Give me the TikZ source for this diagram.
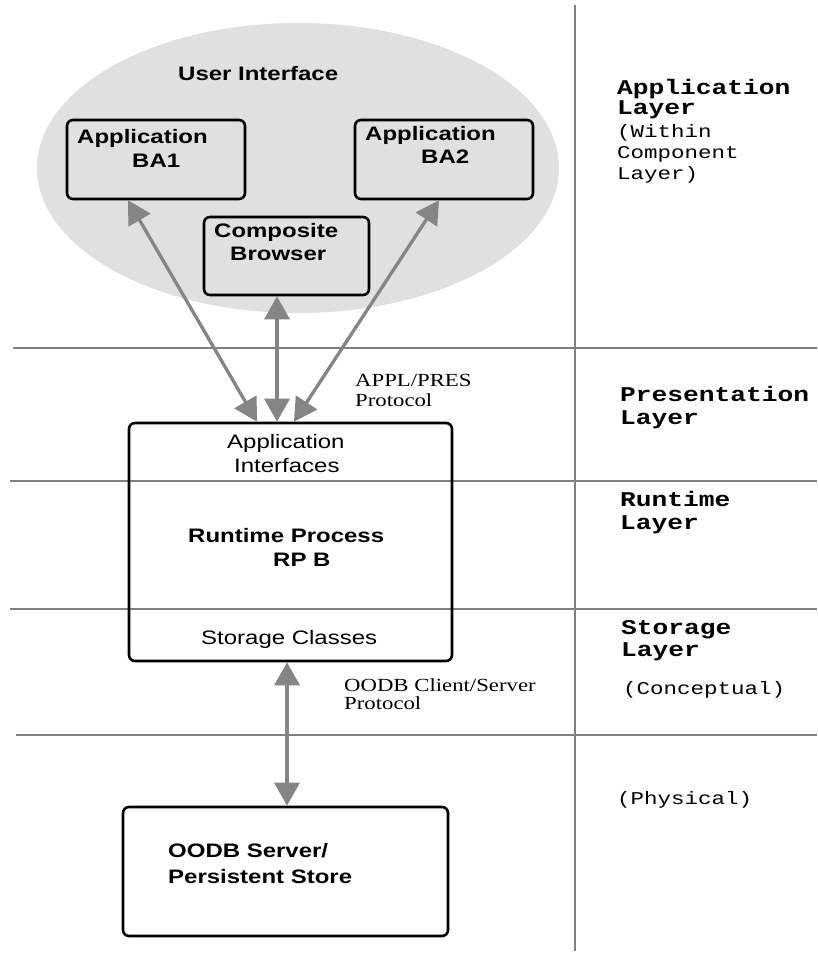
\documentclass[tikz,border=0pt]{standalone}
\usepackage{fontspec}
\setmainfont[FakeStretch=1.23]{Liberation Serif}
\newfontfamily\arialf[FakeStretch=1.23]{Liberation Sans}
\newfontfamily\courf[FakeStretch=1.25]{Liberation Mono}
\usetikzlibrary{arrows.meta,shapes.geometric}
\definecolor{uigray}{HTML}{E0E0E0}
\definecolor{linegray}{HTML}{808080}
\definecolor{arrowgray}{HTML}{858585}
\tikzset{
  box/.style={draw=black, line width=2.6pt, rounded corners=6pt, inner sep=0pt},
  sepline/.style={draw=linegray, line width=2.6pt},
  link/.style={draw=arrowgray, line width=3.3pt,
    {Triangle[length=23pt,width=25pt]}-{Triangle[length=23pt,width=25pt]}},
  txt/.style={inner sep=0pt, anchor=base west},
  bsans/.style={txt, font=\arialf\bfseries\fontsize{19.5}{24}\selectfont},
  rsans/.style={txt, font=\arialf\fontsize{19.5}{24}\selectfont},
  serif/.style={txt, align=left, font=\rmfamily\fontsize{18.5}{#1}\selectfont},
  bmono/.style={txt, font=\courf\bfseries\fontsize{21}{22}\selectfont},
  rmono/.style={txt, font=\courf\fontsize{18}{20}\selectfont},
}
\begin{document}
\begin{tikzpicture}[x=1pt,y=-1pt]
\useasboundingbox (0,0) rectangle (817,953);
\fill[white] (0,0) rectangle (817,953);

% user interface ellipse
\node[ellipse, fill=uigray, inner sep=0pt, minimum width=522pt, minimum height=290pt] (ui) at (298,168) {};

% layer separators
\draw[sepline] (12.5,348) -- (817,348);
\draw[sepline] (10,481) -- (817,481);
\draw[sepline] (10,609) -- (817,609);
\draw[sepline] (16,735) -- (817,735);
\draw[sepline] (575,5) -- (575,951);

% boxes
\node[box, minimum width=178pt, minimum height=79pt] (ba1) at (156,159.5) {};
\node[box, minimum width=178pt, minimum height=79pt] (ba2) at (444,159.5) {};
\node[box, minimum width=165pt, minimum height=78pt] (comp) at (286.5,256) {};
\node[box, minimum width=323pt, minimum height=238pt] (rp) at (290.5,542) {};
\node[box, minimum width=325pt, minimum height=129pt] (oodb) at (285.5,871.5) {};

% texts in the user interface
\node[bsans] (uit) at (178,80) {User Interface};
\node[bsans] (ba1a) at (77,143) {Application};
\node[bsans] (ba1b) at (132,167) {BA1};
\node[bsans] (ba2a) at (365,140) {Application};
\node[bsans] (ba2b) at (421,163) {BA2};
\node[bsans] (compa) at (214,237) {Composite};
\node[bsans] (compb) at (230,260) {Browser};

% texts in runtime process
\node[rsans] (aia) at (227,448) {Application};
\node[rsans] (aib) at (234,472) {Interfaces};
\node[bsans] (rpa) at (188,542) {Runtime Process};
\node[bsans] (rpb) at (273,566) {RP B};
\node[rsans] (sc) at (201,644) {Storage Classes};

% server
\node[bsans] (srva) at (168,857) {OODB Server/};
\node[bsans] (srvb) at (168,883) {Persistent Store};

% protocol labels (base anchor = baseline of the last line)
\node[serif=20] (ap) at (355,406) {APPL/PRES\\Protocol};
\node[serif=17.5] (oc) at (344,709) {OODB Client/Server\\Protocol};

% connectors
\draw[link] ([xshift=-28pt]ba1.south) -- ([xshift=-33.5pt]rp.north);
\draw[link] ([xshift=-9.5pt]comp.south) -- ([xshift=-13.5pt]rp.north);
\draw[link] ([xshift=-5pt]ba2.south) -- ([xshift=3.5pt]rp.north);
\draw[link] ([xshift=-3.5pt]rp.south) -- ([xshift=1.5pt]oodb.north);

% layer labels
\node[bmono] (l1a) at (617,94) {Application};
\node[bmono] (l1b) at (617,114) {Layer};
\node[rmono] (l1c) at (617,137) {(Within};
\node[rmono] (l1d) at (617,158) {Component};
\node[rmono] (l1e) at (617,179) {Layer)};
\node[bmono] (l2a) at (620,401) {Presentation};
\node[bmono] (l2b) at (620,424) {Layer};
\node[bmono] (l3a) at (620,506) {Runtime};
\node[bmono] (l3b) at (620,529) {Layer};
\node[bmono] (l4a) at (621,634) {Storage};
\node[bmono] (l4b) at (621,656) {Layer};
\node[rmono] (l4c) at (623,694) {(Conceptual)};
\node[rmono] (l5) at (617,804) {(Physical)};
\end{tikzpicture}
\end{document}
